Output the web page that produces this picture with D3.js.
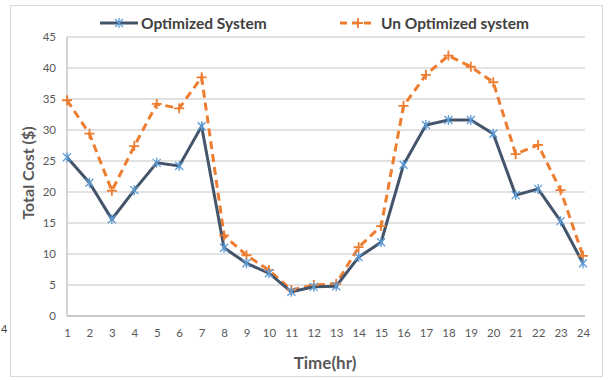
<!DOCTYPE html>
<html><head><meta charset="utf-8">
<script src="https://cdn.jsdelivr.net/npm/d3@7"></script>
<style>body{margin:0;background:#fff;}svg{display:block;font-family:Lato,"Open Sans",sans-serif;}</style>
</head><body>
<script>
const hours = d3.range(1,25);
const optimized = [25.6,21.5,15.6,20.3,24.7,24.2,30.6,11,8.5,6.9,3.9,4.7,4.8,9.5,11.9,24.4,30.8,31.6,31.6,29.4,19.5,20.5,15.3,8.5];
const unoptimized = [34.8,29.4,20.2,27.4,34.2,33.5,38.5,13,9.8,7.4,4.2,5.0,5.2,11.1,14.5,33.9,38.9,42,40.2,37.7,26.1,27.6,20.3,9.7];
const yTicks = [0,5,10,15,20,25,30,35,40,45];
const seriesNames = ["Optimized System","Un Optimized system"];

const W=609,H=380;
const svg=d3.select("body").append("svg").attr("width",W).attr("height",H);
// frame
svg.append("rect").attr("x",10.5).attr("y",5.5).attr("width",592).attr("height",371).attr("fill","none").attr("stroke","#d9d9d9");
svg.append("text").attr("x",1).attr("y",333).attr("font-size",11).attr("fill","#444").text("4");

const x=d3.scaleLinear().domain([1,24]).range([67,583]);
const y=d3.scaleLinear().domain([0,45]).range([316,37]);

// gridlines
svg.append("g").selectAll("line").data(yTicks).join("line")
  .attr("x1",67).attr("x2",585).attr("y1",d=>y(d)).attr("y2",d=>y(d))
  .attr("stroke","#d9d9d9").attr("stroke-width",1.3);
svg.append("line").attr("x1",67).attr("x2",67).attr("y1",y(45)).attr("y2",y(0)).attr("stroke","#bfbfbf").attr("stroke-width",1.3);
svg.append("line").attr("x1",67).attr("x2",585).attr("y1",y(0)).attr("y2",y(0)).attr("stroke","#bfbfbf").attr("stroke-width",1.3);

const ya=svg.append("g").attr("transform","translate(56,0)").call(d3.axisLeft(y).tickValues(yTicks).tickSize(0).tickPadding(0));
ya.select(".domain").remove();
ya.selectAll("text").attr("font-size",11.5).attr("fill","#595959").attr("font-family","Lato,sans-serif");
const xa=svg.append("g").attr("transform","translate(0,325)").call(d3.axisBottom(x).tickValues(hours).tickSize(0).tickPadding(4));
xa.select(".domain").remove();
xa.selectAll("text").attr("font-size",11.5).attr("fill","#595959").attr("font-family","Lato,sans-serif");

svg.append("text").attr("x",325).attr("y",369).attr("text-anchor","middle").attr("font-size",17).attr("font-weight","bold").attr("fill","#595959").text("Time(hr)");
svg.append("text").attr("transform","translate(34,173) rotate(-90)").attr("text-anchor","middle").attr("font-size",16).attr("font-weight","bold").attr("fill","#595959").text("Total Cost ($)");

const line=d3.line().x((d,i)=>x(hours[i])).y(d=>y(d));
const cO="#44546A", cM="#5B9BD5", cU="#ED7D31";

svg.append("path").datum(unoptimized).attr("d",line).attr("fill","none").attr("stroke",cU).attr("stroke-width",3).attr("stroke-dasharray","8,5");
svg.append("path").datum(optimized).attr("d",line).attr("fill","none").attr("stroke",cO).attr("stroke-width",3);

function star(g,cx,cy,col){
  const s=4;
  g.append("path").attr("d",`M${cx-s},${cy-s}L${cx+s},${cy+s}M${cx-s},${cy+s}L${cx+s},${cy-s}M${cx},${cy-s-1}L${cx},${cy+s+1}`).attr("stroke",col).attr("stroke-width",1.3).attr("fill","none");
}
function plus(g,cx,cy,col){
  const s=5;
  g.append("path").attr("d",`M${cx-s},${cy}L${cx+s},${cy}M${cx},${cy-s}L${cx},${cy+s}`).attr("stroke",col).attr("stroke-width",1.8).attr("fill","none");
}
const mg=svg.append("g");
unoptimized.forEach((v,i)=>plus(mg,x(hours[i]),y(v),cU));
optimized.forEach((v,i)=>star(mg,x(hours[i]),y(v),cM));

// legend
const lg=svg.append("g");
lg.append("line").attr("x1",100).attr("x2",138).attr("y1",23).attr("y2",23).attr("stroke",cO).attr("stroke-width",3);
star(lg,119,23,cM);
lg.append("text").attr("x",141).attr("y",29).attr("font-size",15.5).attr("font-weight","bold").attr("fill","#404040").text(seriesNames[0]);
lg.append("line").attr("x1",340).attr("x2",376).attr("y1",23).attr("y2",23).attr("stroke",cU).attr("stroke-width",3).attr("stroke-dasharray","7,5");
plus(lg,358,23,cU);
lg.append("text").attr("x",381).attr("y",29).attr("font-size",15.5).attr("font-weight","bold").attr("fill","#404040").text(seriesNames[1]);
</script>
</body></html>
